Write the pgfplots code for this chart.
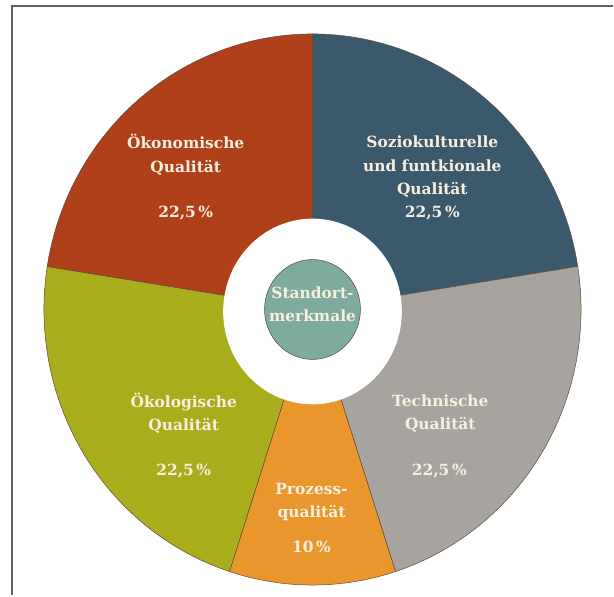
\documentclass[border=0pt]{standalone}
\usepackage{fontspec}
\setmainfont{DejaVu Serif}
\usepackage{pgfplots}
\usepackage{pgfplotstable}
\pgfplotsset{compat=1.18}

\definecolor{cSozio}{HTML}{3B596D}
\definecolor{cTech}{HTML}{A7A39E}
\definecolor{cProz}{HTML}{E9972D}
\definecolor{cOekol}{HTML}{A9AD1C}
\definecolor{cOekon}{HTML}{AF4019}
\definecolor{cCenter}{HTML}{7DAB9D}
\definecolor{cText}{HTML}{F7F0E0}
\definecolor{cFrame}{HTML}{616161}
\definecolor{cEdge}{HTML}{5A4A40}

% shares of the donut, clockwise from 12 o'clock
\pgfplotstableread{
label        pct
Sozio        22.5
Technik      22.5
Prozess      10
Oekologie    22.5
Oekonomie    22.5
}\shares

\pgfplotstablegetelem{0}{pct}\of\shares \let\pA\pgfplotsretval
\pgfplotstablegetelem{1}{pct}\of\shares \let\pB\pgfplotsretval
\pgfplotstablegetelem{2}{pct}\of\shares \let\pC\pgfplotsretval
\pgfplotstablegetelem{3}{pct}\of\shares \let\pD\pgfplotsretval
\pgfplotstablegetelem{4}{pct}\of\shares \let\pE\pgfplotsretval
\pgfmathsetmacro\aA{90}
\pgfmathsetmacro\aB{\aA-3.6*\pA}
\pgfmathsetmacro\aC{\aB-3.6*\pB}
\pgfmathsetmacro\aD{\aC-3.6*\pC}
\pgfmathsetmacro\aE{\aD-3.6*\pD}
\pgfmathsetmacro\aF{\aE-3.6*\pE}

\def\RX{269}
\def\RY{276}

\tikzset{lbl/.style={text=cText, align=center, inner sep=0pt,
  font=\bfseries\fontsize{15.5}{23.5}\selectfont}}

\begin{document}
\begin{tikzpicture}
\begin{axis}[
  scale only axis, width=614bp, height=596bp,
  xmin=-313, xmax=301, ymin=-286, ymax=310,
  hide axis, clip=false,
]
\path (axis cs:-313,-286) rectangle (axis cs:301,310);
\addplot[fill=cSozio, draw=cEdge, line width=0.5pt, domain=\aB:\aA, samples=80, variable=\t]
  ({\RX*cos(\t)},{\RY*sin(\t)}) -- (axis cs:0,0) -- cycle;
\addplot[fill=cTech, draw=cEdge, line width=0.5pt, domain=\aC:\aB, samples=80, variable=\t]
  ({\RX*cos(\t)},{\RY*sin(\t)}) -- (axis cs:0,0) -- cycle;
\addplot[fill=cProz, draw=cEdge, line width=0.5pt, domain=\aD:\aC, samples=40, variable=\t]
  ({\RX*cos(\t)},{\RY*sin(\t)}) -- (axis cs:0,0) -- cycle;
\addplot[fill=cOekol, draw=cEdge, line width=0.5pt, domain=\aE:\aD, samples=80, variable=\t]
  ({\RX*cos(\t)},{\RY*sin(\t)}) -- (axis cs:0,0) -- cycle;
\addplot[fill=cOekon, draw=cEdge, line width=0.5pt, domain=\aF:\aE, samples=80, variable=\t]
  ({\RX*cos(\t)},{\RY*sin(\t)}) -- (axis cs:0,0) -- cycle;
% white hole
\addplot[fill=white, draw=none, domain=0:360, samples=120, variable=\t]
  ({89.5*cos(\t)},{93*sin(\t)-2}) -- cycle;
% centre disc
\addplot[fill=cCenter, draw=cEdge, line width=0.5pt, domain=0:360, samples=100, variable=\t]
  ({48*cos(\t)},{50*sin(\t)}) -- cycle;

% frame (top and left edges)
\draw[cFrame, line width=2bp] (axis cs:-301,-286) -- (axis cs:-301,304) -- (axis cs:301,304);

% labels (pixel -> axis: x-313, 310-y)
\node[lbl] at (axis cs:-127,155) {Ökonomische\\Qualität};
\node[lbl] at (axis cs:-127,97) {22,5\,\%};
\node[lbl] at (axis cs:120,143) {Soziokulturelle\\und funtkionale\\Qualität};
\node[lbl] at (axis cs:120,97) {22,5\,\%};
\node[lbl] at (axis cs:-129,-104) {Ökologische\\Qualität};
\node[lbl] at (axis cs:-129,-162) {22,5\,\%};
\node[lbl] at (axis cs:128,-104) {Technische\\Qualität};
\node[lbl] at (axis cs:127,-162) {22,5\,\%};
\node[lbl] at (axis cs:-1,-192.5) {Prozess-\\qualität};
\node[lbl] at (axis cs:-1,-238) {10\,\%};
\node[lbl] at (axis cs:0,5.5) {Standort-\\merkmale};
\end{axis}
\end{tikzpicture}
\end{document}
